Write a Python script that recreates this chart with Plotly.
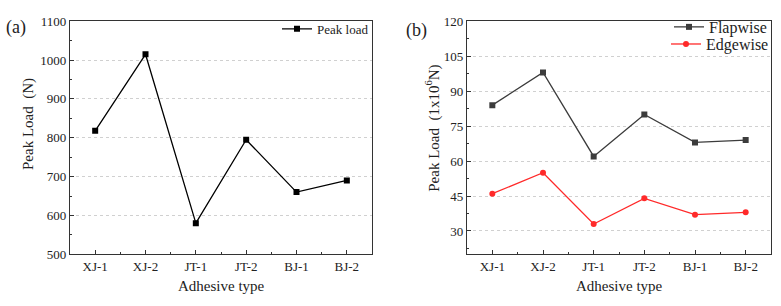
import plotly.graph_objects as go

categories = ["XJ-1", "XJ-2", "JT-1", "JT-2", "BJ-1", "BJ-2"]
peak_load = [818, 1015, 580, 795, 660, 690]
flapwise = [84, 98, 62, 80, 68, 69]
edgewise = [46, 55, 33, 44, 37, 38]

xs = list(range(len(categories)))
FONT = "Liberation Serif"

fig = go.Figure()
fig.add_trace(go.Scatter(x=xs, y=peak_load, mode="lines+markers", name="Peak load",
                         line=dict(color="black", width=1.3),
                         marker=dict(symbol="square", size=6, color="black"),
                         xaxis="x", yaxis="y", legend="legend"))
fig.add_trace(go.Scatter(x=xs, y=flapwise, mode="lines+markers", name="Flapwise",
                         line=dict(color="#3c3c3c", width=1.3),
                         marker=dict(symbol="square", size=6, color="#3c3c3c"),
                         xaxis="x2", yaxis="y2", legend="legend2"))
fig.add_trace(go.Scatter(x=xs, y=edgewise, mode="lines+markers", name="Edgewise",
                         line=dict(color="#ff2a2a", width=1.3),
                         marker=dict(symbol="circle", size=6, color="#ff2a2a"),
                         xaxis="x2", yaxis="y2", legend="legend3"))

W, H = 781, 306
def px(x): return x / W
def py(y): return 1 - y / H

ydom = [py(260), py(15)]
xcommon = dict(tickmode="array", tickvals=xs, ticktext=categories, range=[-0.5, 5.5],
               showline=True, mirror=True, linecolor="#333", linewidth=1.2,
               ticks="inside", ticklen=4, tickcolor="#333", showgrid=False, zeroline=False,
               tickfont=dict(family=FONT, size=13, color="#222"),
               minor=dict(tickvals=[0.5, 1.5, 2.5, 3.5, 4.5], ticks="inside", ticklen=2, tickcolor="#333"))
ycommon = dict(showline=True, mirror=True, linecolor="#333", linewidth=1.2,
               ticks="inside", ticklen=4, tickcolor="#333", zeroline=False,
               showgrid=True, gridcolor="#d0d0d0", griddash="dot", gridwidth=1,
               tickfont=dict(family=FONT, size=13, color="#222"))

leg_common = dict(yanchor="middle", xanchor="right", bgcolor="rgba(0,0,0,0)", itemwidth=30, tracegroupgap=0)

fig.update_layout(
    width=W, height=H, margin=dict(l=0, r=0, t=0, b=0),
    paper_bgcolor="white", plot_bgcolor="white", showlegend=True,
    font=dict(family=FONT),
    xaxis=dict(domain=[px(70), px(372)], anchor="y", **xcommon),
    yaxis=dict(domain=ydom, anchor="x", range=[500, 1100], tickvals=[500, 600, 700, 800, 900, 1000, 1100],
               minor=dict(dtick=50, tick0=500, ticks="inside", ticklen=2, tickcolor="#333", showgrid=False),
               **ycommon),
    xaxis2=dict(domain=[px(467), px(771)], anchor="y2", **xcommon),
    yaxis2=dict(domain=ydom, anchor="x2", range=[20, 120], tickvals=[30, 45, 60, 75, 90, 105, 120],
                minor=dict(tickvals=[22.5, 37.5, 52.5, 67.5, 82.5, 97.5, 112.5], ticks="inside", ticklen=2,
                           tickcolor="#333", showgrid=False),
                **ycommon),
    legend=dict(x=px(374), y=py(23), font=dict(family=FONT, size=13, color="#222"), **leg_common),
    legend2=dict(x=px(772), y=py(21), font=dict(family=FONT, size=16, color="#222"), **leg_common),
    legend3=dict(x=px(774), y=py(39), font=dict(family=FONT, size=16, color="#222"), **leg_common),
)

anns = [
    dict(x=px(16), y=py(22), text="(a)", size=18),
    dict(x=px(416), y=py(25), text="(b)", size=18),
    dict(x=px(221), y=py(293), text="Adhesive type", size=15),
    dict(x=px(619), y=py(293), text="Adhesive type", size=15),
]
for a in anns:
    fig.add_annotation(x=a["x"], y=a["y"], xref="paper", yref="paper", text=a["text"], showarrow=False,
                       font=dict(family=FONT, size=a["size"], color="#222"), xanchor="center", yanchor="middle")
fig.add_annotation(x=px(29), y=py(123), xref="paper", yref="paper", text="Peak Load &nbsp;(N)", showarrow=False,
                   textangle=-90, font=dict(family=FONT, size=15, color="#222"), xanchor="center", yanchor="middle")
fig.add_annotation(x=px(433), y=py(128), xref="paper", yref="paper", text="Peak Load &nbsp;(1x10<sup>6</sup>N)",
                   showarrow=False, textangle=-90, font=dict(family=FONT, size=15, color="#222"),
                   xanchor="center", yanchor="middle")

fig.write_html("out.html")
